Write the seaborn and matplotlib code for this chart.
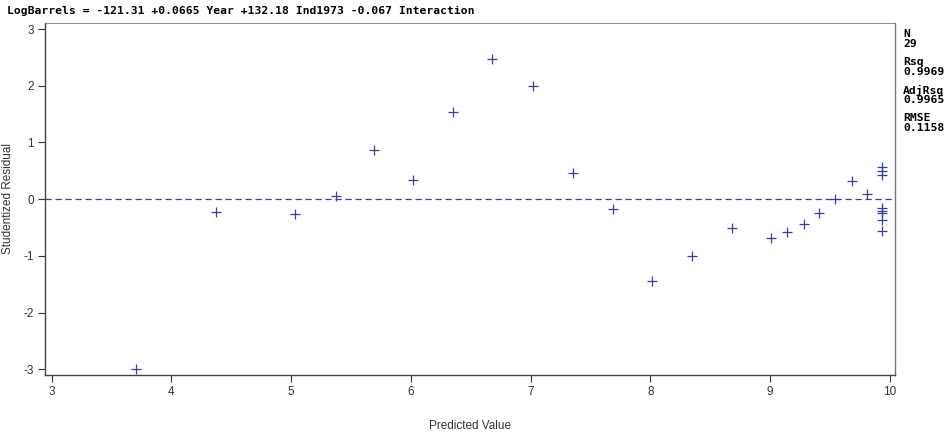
import matplotlib
matplotlib.use("Agg")
import matplotlib.pyplot as plt
import seaborn as sns
import pandas as pd

predicted = [3.70, 4.37, 5.03, 5.37, 5.69, 6.02, 6.35, 6.68, 7.02, 7.35,
             7.69, 8.01, 8.35, 8.68, 9.01, 9.14, 9.28, 9.41, 9.54, 9.68,
             9.81, 9.93, 9.93, 9.93, 9.93, 9.93, 9.93, 9.93, 9.93]
residual = [-2.99, -0.23, -0.26, 0.06, 0.86, 0.33, 1.54, 2.48, 2.00, 0.46,
            -0.17, -1.44, -1.01, -0.50, -0.68, -0.57, -0.43, -0.25, 0.00, 0.32,
            0.09, 0.57, 0.50, 0.43, -0.16, -0.20, -0.24, -0.36, -0.56]
x_ticks = [3, 4, 5, 6, 7, 8, 9, 10]
y_ticks = [-3, -2, -1, 0, 1, 2, 3]
title_text = "LogBarrels = -121.31 +0.0665 Year +132.18 Ind1973 -0.067 Interaction"
stats_labels = ["N", "29", "Rsq", "0.9969", "AdjRsq", "0.9965", "RMSE", "0.1158"]

sns.set_style("white")
plt.rcParams['font.family'] = ['Liberation Sans', 'DejaVu Sans']

df = pd.DataFrame({"Predicted Value": predicted, "Studentized Residual": residual})

fig = plt.figure(figsize=(9.49, 4.33), dpi=100)
ax = fig.add_axes([45/949, 58/433, 850/949, 352/433])

blue = "#3b3bb0"
ax.axhline(0, color=blue, lw=0.9, ls=(0, (5, 3)), zorder=1)
sns.scatterplot(data=df, x="Predicted Value", y="Studentized Residual", ax=ax,
                marker="+", color=blue, s=45, linewidth=0.9, zorder=3)

ax.set_xlim(2.944, 10.042)
ax.set_ylim(-3.1, 3.106)
ax.set_xticks(x_ticks)
ax.set_yticks(y_ticks)
ax.set_xticklabels([str(t) for t in x_ticks])
ax.set_yticklabels([str(t) for t in y_ticks])
ax.tick_params(axis="both", direction="out", length=5, width=0.8, color="#333333",
               labelsize=8.5, labelcolor="#333333", pad=3, left=True, bottom=True)
for side, sp in ax.spines.items():
    sp.set_visible(True)
    sp.set_linewidth(1.0)
    sp.set_color("#777777" if side in ("top", "right") else "#444444")
ax.spines["top"].set_linewidth(0.6)
ax.set_xlabel("Predicted Value", fontsize=8.5, color="#333333")
ax.set_ylabel("Studentized Residual", fontsize=8.5, color="#333333")
ax.xaxis.set_label_coords(0.5, -(420 - 375) / 352)
ax.yaxis.set_label_coords(-(45 - 14) / 850, 0.5)

mono = dict(family="DejaVu Sans Mono", fontweight="bold", fontsize=8.2, color="black")
fig.text(7/949, 1 - 11/433, title_text, ha="left", va="center", **mono)
stat_y = [34, 44, 62, 72, 90, 100, 118, 128]
for s, yy in zip(stats_labels, stat_y):
    fig.text(903/949, 1 - yy/433, s, ha="left", va="center", **mono)

fig.savefig("out.png", dpi=100)
